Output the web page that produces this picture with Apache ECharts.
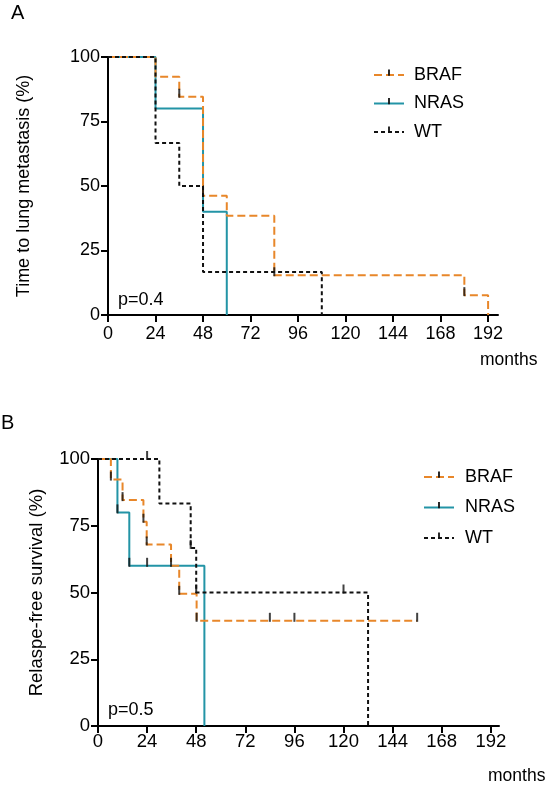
<!DOCTYPE html>
<html>
<head>
<meta charset="utf-8">
<script src="https://cdn.jsdelivr.net/npm/echarts@6/dist/echarts.min.js"></script>
<style>
html,body{margin:0;padding:0;background:#fff;}
#chart{width:550px;height:787px;}
</style>
</head>
<body>
<div id="chart"></div>
<script>
// ---------- data ----------
const seriesNames = ['BRAF', 'NRAS', 'WT'];
const xTicks = [0, 24, 48, 72, 96, 120, 144, 168, 192];
const yTicks = [0, 25, 50, 75, 100];

// Panel A: time to lung metastasis (months, %)
const aBrafT = [0, 24, 36, 48, 60, 84, 180, 192];
const aBrafS = [100, 92.3, 84.6, 46.2, 38.5, 15.4, 7.7, 0];
const aNrasT = [0, 24, 48, 60];
const aNrasS = [100, 80, 40, 0];
const aWtT = [0, 24, 36, 48, 108];
const aWtS = [100, 66.7, 50, 16.7, 0];
const aCensorT = [36, 48, 84, 180];
const aCensorS = [84.6, 46.2, 15.4, 7.7];

// Panel B: relapse-free survival (months, %)
const bBrafT = [0, 6.3, 12, 22.2, 23.8, 35.7, 39.7, 48.2, 156];
const bBrafS = [100, 92.3, 84.6, 76.5, 68, 60, 49.5, 39.4, 39.4];
const bNrasT = [0, 9.5, 15.3, 52];
const bNrasS = [100, 80, 60, 0];
const bWtT = [0, 30, 45.3, 48, 132];
const bWtS = [100, 83.3, 66.7, 50, 0];
const bCensorT = [6.3, 12, 22.2, 23.8, 35.7, 39.7, 48.2, 84, 96, 156, 9.5, 15.3, 24, 24, 45.3, 48, 120];
const bCensorS = [92.3, 84.6, 76.5, 68, 60, 49.5, 39.4, 39.4, 39.4, 39.4, 80, 60, 60, 100, 66.7, 50, 50];

// ---------- styling ----------
const FONT = 'Liberation Sans, Arial, sans-serif';
const colors = { BRAF: '#e8872a', NRAS: '#2394a6', WT: '#111111' };
const dashes = { BRAF: [8, 4], NRAS: 'solid', WT: [4, 3] };
const tickIcon = 'path://M0,5L0,5M4.2,0L5.8,0L5.8,5.6L4.2,5.6ZM10,10L10,10';

const zip = (t, s) => t.map((v, i) => [v, s[i]]);

function stepSeries(name, t, s, idx) {
  return {
    type: 'line', name: name, xAxisIndex: idx, yAxisIndex: idx,
    step: 'end', data: zip(t, s), showSymbol: false,
    symbol: tickIcon, symbolKeepAspect: false,
    itemStyle: { color: '#111' },
    lineStyle: { color: colors[name], width: 2, type: dashes[name] },
    emphasis: { disabled: true }, silent: true, z: name === 'NRAS' ? 3 : 4
  };
}
function censorSeries(t, s, idx) {
  return {
    type: 'scatter', name: 'censor' + idx, xAxisIndex: idx, yAxisIndex: idx,
    data: zip(t, s), symbol: 'rect', symbolSize: [2, 9], symbolOffset: [0, -3.5],
    itemStyle: { color: '#111' }, silent: true, z: 6
  };
}
function xAxis(idx, max, margin, fs) {
  return {
    type: 'value', gridIndex: idx, min: 0, max: max,
    axisLine: { show: true, onZero: false, lineStyle: { color: '#000', width: 2 } },
    axisTick: { show: true, length: 7, customValues: xTicks, lineStyle: { color: '#000', width: 2 } },
    axisLabel: { customValues: xTicks, margin: margin, color: '#000', fontSize: fs, fontFamily: FONT },
    splitLine: { show: false }
  };
}
function yAxis(idx, name, gap, fs, nfs, margin) {
  return {
    type: 'value', gridIndex: idx, min: 0, max: 100, interval: 25,
    name: name, nameLocation: 'middle', nameGap: gap, nameRotate: 90,
    nameTextStyle: { fontSize: nfs, color: '#000', fontFamily: FONT },
    axisLine: { show: true, lineStyle: { color: '#000', width: 2 } },
    axisTick: { show: true, length: 7, lineStyle: { color: '#000', width: 2 } },
    axisLabel: { margin: margin, color: '#000', fontSize: fs, fontFamily: FONT },
    splitLine: { show: false }
  };
}
function legend(left, top, gap, pad) {
  return {
    data: seriesNames, orient: 'vertical', left: left, top: top,
    itemWidth: 30, itemHeight: 14, itemGap: gap, selectedMode: false,
    textStyle: { fontSize: 18, color: '#000', fontFamily: FONT, padding: [0, 0, 0, pad] }
  };
}
function label(text, left, top, fs) {
  return { text: text, left: left, top: top, padding: 0,
    textStyle: { fontSize: fs, fontWeight: 'normal', color: '#000', fontFamily: FONT } };
}

const chart = echarts.init(document.getElementById('chart'), null, { renderer: 'canvas' });
chart.setOption({
  animation: false,
  backgroundColor: '#fff',
  textStyle: { fontFamily: FONT },
  title: [
    label('A', 11, 3, 20),
    label('B', 1, 413, 20),
    label('months', 480, 351, 17.5),
    label('months', 488, 767, 17.5),
    label('p=0.4', 118, 291, 18),
    label('p=0.5', 108, 701, 18)
  ],
  legend: [legend(368, 61, 10.5, 5), legend(418, 463, 12.5, 6)],
  grid: [
    { left: 108, top: 57, width: 390, height: 258 },
    { left: 98, top: 459, width: 401, height: 267 }
  ],
  xAxis: [xAxis(0, 197, 10, 18), xAxis(1, 196, 6, 18.5)],
  yAxis: [
    yAxis(0, 'Time to lung metastasis (%)', 75, 18, 18, 8),
    yAxis(1, 'Relaspe-free survival (%)', 52, 18.5, 18.5, 8)
  ],
  series: [
    stepSeries('BRAF', aBrafT, aBrafS, 0),
    stepSeries('NRAS', aNrasT, aNrasS, 0),
    stepSeries('WT', aWtT, aWtS, 0),
    censorSeries(aCensorT, aCensorS, 0),
    stepSeries('BRAF', bBrafT, bBrafS, 1),
    stepSeries('NRAS', bNrasT, bNrasS, 1),
    stepSeries('WT', bWtT, bWtS, 1),
    censorSeries(bCensorT, bCensorS, 1)
  ]
});
</script>
</body>
</html>
